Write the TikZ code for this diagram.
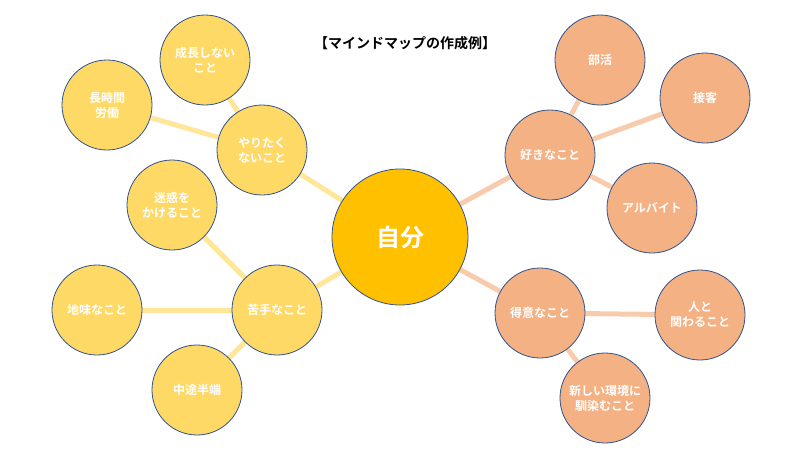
\documentclass[tikz,border=0pt]{standalone}
\usepackage{fontspec}
\newfontfamily\jp{Noto Sans CJK JP}[BoldFont={Noto Sans CJK JP Bold}]
\usetikzlibrary{backgrounds}
\definecolor{centerfill}{HTML}{FFC000}
\definecolor{leftfill}{HTML}{FFD966}
\definecolor{rightfill}{HTML}{F4B183}
\definecolor{leftline}{HTML}{FFE699}
\definecolor{rightline}{HTML}{F8CBAD}
\definecolor{rim}{HTML}{2F528F}
\tikzset{
  bubble/.style={circle,draw=rim,line width=0.8pt,minimum size=90pt,inner sep=0pt,
    align=center,text=white,font=\jp\bfseries\fontsize{12}{15}\selectfont},
  leftbubble/.style={bubble,fill=leftfill},
  rightbubble/.style={bubble,fill=rightfill},
  leftlink/.style={draw=leftline,line width=5pt},
  rightlink/.style={draw=rightline,line width=5pt}
}
\begin{document}
\begin{tikzpicture}[x=1pt,y=-1pt]
  \useasboundingbox (0,0) rectangle (800,450);
  \node[font=\jp\bfseries\fontsize{14}{16}\selectfont] (title) at (405,43) {【マインドマップの作成例】};
  \node[bubble,fill=centerfill,minimum size=136pt,font=\jp\bfseries\fontsize{24}{28}\selectfont] (self) at (400,237) {自分};
  % left side
  \node[leftbubble] (nogrow) at (205,60) {成長しない\\こと};
  \node[leftbubble] (longhours) at (107,105) {長時間\\労働};
  \node[leftbubble] (dislike) at (262,150) {やりたく\\ないこと};
  \node[leftbubble] (trouble) at (172,205) {迷惑を\\かけること};
  \node[leftbubble] (plain) at (97,310) {地味なこと};
  \node[leftbubble] (weak) at (277,310) {苦手なこと};
  \node[leftbubble] (halfway) at (197,390) {中途半端};
  % right side
  \node[rightbubble] (club) at (600,60) {部活};
  \node[rightbubble] (service) at (705,98) {接客};
  \node[rightbubble] (like) at (550,155) {好きなこと};
  \node[rightbubble] (parttime) at (652,208) {アルバイト};
  \node[rightbubble] (good) at (540,313) {得意なこと};
  \node[rightbubble] (people) at (700,315) {人と\\関わること};
  \node[rightbubble] (newenv) at (605,398) {新しい環境に\\馴染むこと};
  \begin{pgfonlayer}{background}
    \foreach \a/\b in {self/dislike, self/weak, dislike/nogrow, dislike/longhours,
        weak/trouble, weak/plain, weak/halfway} {
      \draw[leftlink] (\a) -- (\b);
    }
    \foreach \a/\b in {self/like, self/good, like/club, like/service, like/parttime,
        good/people, good/newenv} {
      \draw[rightlink] (\a) -- (\b);
    }
  \end{pgfonlayer}
\end{tikzpicture}
\end{document}
